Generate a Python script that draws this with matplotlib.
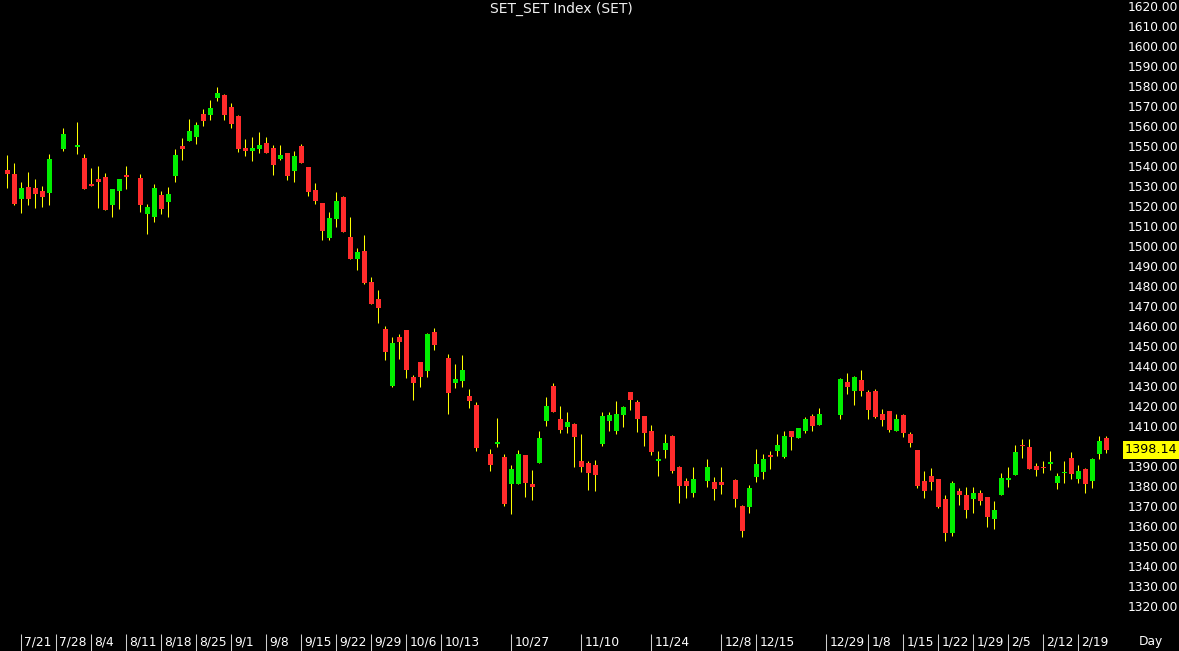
import numpy as np
import matplotlib
matplotlib.use("Agg")
import matplotlib.pyplot as plt
import matplotlib.transforms as mtransforms

nan = np.nan
# ---- data (one slot per weekday; nan = no trading) ----
opens = [1537.8, 1536.0, 1523.7, 1529.3, 1529.0, 1527.3, 1526.7, nan, 1548.5, nan,
         1549.7, 1543.8, 1531.0, 1533.3, 1534.5, 1520.5, 1527.5, 1535.5, nan, 1534.2,
         1516.2, 1514.7, 1525.7, 1522.2, 1535.0, 1550.2, 1552.5, 1554.3, 1566.2, 1565.7,
         1574.2, 1575.5, 1569.3, 1565.0, 1549.0, 1547.5, 1548.5, 1551.3, 1549.0, 1543.7,
         1546.5, 1537.7, 1550.0, 1539.3, 1527.8, 1521.7, 1504.2, 1513.7, 1524.5, 1504.7,
         1493.7, 1497.7, 1482.0, 1473.5, 1458.5, 1430.2, 1454.5, 1458.0, 1434.5, 1442.0,
         1437.7, 1457.0, nan, 1444.0, 1431.5, 1432.5, 1425.0, 1420.3, nan, 1396.0,
         1400.8, 1394.7, 1381.2, 1381.2, 1395.7, 1381.0, 1391.5, 1412.5, 1430.0, 1413.5,
         1409.7, 1411.0, 1392.7, 1391.5, 1390.3, 1401.2, 1412.7, 1407.5, 1415.3, 1427.0,
         1422.0, 1415.0, 1407.5, 1392.7, 1398.2, 1405.0, 1389.3, 1382.3, 1376.3, nan,
         1382.7, 1382.2, 1382.0, nan, 1383.0, 1370.0, 1369.7, 1384.5, 1387.0, 1395.3,
         1397.7, 1394.5, 1407.5, 1404.2, 1407.7, 1415.2, 1410.5, nan, nan, 1415.5,
         1432.0, 1427.7, 1433.0, 1427.0, 1427.3, 1416.0, 1417.5, 1407.7, 1415.7, 1406.2,
         1397.8, 1382.5, 1385.0, 1383.5, 1373.5, 1356.7, 1377.5, 1375.7, 1373.5, 1376.3,
         1374.7, 1363.3, 1375.5, 1383.2, 1385.7, 1400.5, 1399.3, 1389.8, 1389.5, 1391.2,
         1381.7, 1386.5, 1394.0, 1383.5, 1388.5, 1382.5, 1396.2, 1404.2]
highs = [1545.5, 1541.3, 1532.2, 1536.8, 1533.5, 1529.8, 1546.0, nan, 1558.8, nan,
         1562.0, 1546.0, 1539.0, 1540.0, 1536.5, 1528.5, 1533.5, 1540.0, nan, 1535.8,
         1521.2, 1531.0, 1527.5, 1529.3, 1548.3, 1554.0, 1563.3, 1562.0, 1568.7, 1573.0,
         1579.3, 1576.0, 1571.7, 1565.5, 1553.7, 1554.5, 1556.8, 1554.3, 1550.3, 1550.3,
         1546.5, 1547.5, 1551.0, 1539.3, 1531.5, 1521.7, 1517.0, 1527.0, 1525.0, 1514.7,
         1498.8, 1505.5, 1484.5, 1477.8, 1459.8, 1454.7, 1456.0, 1458.0, 1435.5, 1442.2,
         1456.5, 1459.0, nan, 1446.0, 1440.8, 1445.3, 1428.5, 1422.2, nan, 1398.3,
         1413.8, 1395.8, 1390.5, 1397.8, 1395.7, 1387.8, 1407.5, 1424.5, 1431.3, 1419.8,
         1416.8, 1411.7, 1405.8, 1392.3, 1393.0, 1416.8, 1417.0, 1422.5, 1420.0, 1427.0,
         1423.0, 1415.0, 1410.5, 1397.7, 1405.8, 1405.3, 1389.8, 1384.0, 1389.3, nan,
         1393.3, 1384.5, 1389.3, nan, 1383.3, 1370.3, 1380.5, 1398.5, 1395.8, 1397.5,
         1406.2, 1407.7, 1407.5, 1409.2, 1414.7, 1415.8, 1418.8, nan, nan, 1434.2,
         1436.3, 1435.2, 1438.0, 1428.0, 1428.3, 1418.3, 1417.5, 1416.2, 1416.0, 1407.0,
         1398.2, 1387.3, 1389.0, 1383.5, 1375.5, 1382.7, 1379.0, 1379.7, 1379.5, 1378.2,
         1374.7, 1372.5, 1386.3, 1389.3, 1400.5, 1403.3, 1403.5, 1391.7, 1392.3, 1397.7,
         1386.7, 1392.3, 1396.8, 1390.3, 1389.0, 1394.0, 1405.2, 1405.0]
lows = [1529.2, 1520.5, 1516.7, 1520.5, 1519.2, 1519.3, 1520.7, nan, 1547.5, nan,
        1546.0, 1528.3, 1530.2, 1519.2, 1518.0, 1514.3, 1518.5, 1528.7, nan, 1517.2,
        1505.8, 1512.0, 1516.0, 1514.7, 1532.2, 1543.2, 1552.5, 1551.2, 1560.2, 1563.0,
        1572.7, 1563.0, 1559.2, 1546.8, 1545.0, 1542.7, 1546.3, 1546.7, 1535.7, 1543.2,
        1533.0, 1532.2, 1541.3, 1525.2, 1521.2, 1503.2, 1503.2, 1509.7, 1506.8, 1493.7,
        1488.0, 1481.2, 1471.2, 1461.5, 1443.2, 1429.7, 1443.3, 1433.8, 1423.0, 1429.7,
        1434.3, 1448.2, nan, 1416.2, 1429.0, 1429.7, 1419.2, 1397.7, nan, 1387.5,
        1399.3, 1370.2, 1366.2, 1381.2, 1374.5, 1373.2, 1391.5, 1409.8, 1416.8, 1406.7,
        1406.7, 1389.3, 1387.2, 1378.0, 1377.7, 1400.2, 1407.7, 1406.2, 1409.5, 1418.2,
        1407.2, 1400.2, 1395.7, 1385.2, 1393.8, 1386.7, 1371.7, 1374.0, 1374.5, nan,
        1379.3, 1373.2, 1376.0, nan, 1369.7, 1354.5, 1366.5, 1382.0, 1383.7, 1388.7,
        1395.0, 1394.2, 1397.8, 1404.2, 1406.3, 1407.5, 1410.5, nan, nan, 1413.5,
        1426.0, 1420.7, 1425.2, 1413.7, 1414.2, 1410.2, 1407.2, 1407.7, 1404.7, 1399.7,
        1378.8, 1374.2, 1378.2, 1369.2, 1352.5, 1355.0, 1370.7, 1364.2, 1366.7, 1370.7,
        1359.3, 1358.3, 1375.3, 1379.7, 1385.7, 1393.8, 1388.3, 1385.0, 1386.3, 1388.0,
        1378.7, 1381.3, 1383.3, 1381.3, 1376.7, 1378.8, 1393.5, 1396.7]
closes = [1536.2, 1520.8, 1529.2, 1523.5, 1526.2, 1524.3, 1543.3, nan, 1556.2, nan,
          1550.5, 1528.7, 1530.2, 1532.2, 1518.2, 1528.5, 1533.5, 1534.5, nan, 1520.3,
          1519.7, 1529.0, 1518.7, 1526.0, 1545.7, 1548.5, 1557.5, 1560.3, 1562.5, 1568.8,
          1576.5, 1565.7, 1561.2, 1548.5, 1547.7, 1548.8, 1550.5, 1546.7, 1540.7, 1545.3,
          1535.2, 1545.0, 1541.7, 1527.2, 1522.7, 1507.7, 1514.2, 1522.7, 1506.8, 1493.7,
          1497.2, 1481.7, 1471.2, 1469.2, 1447.2, 1451.3, 1452.2, 1438.2, 1431.3, 1434.3,
          1456.0, 1450.3, nan, 1426.7, 1433.5, 1438.0, 1422.7, 1399.2, nan, 1390.7,
          1401.8, 1371.0, 1388.3, 1396.0, 1381.5, 1379.7, 1404.0, 1419.8, 1416.8, 1408.0,
          1411.8, 1404.7, 1389.3, 1386.7, 1385.7, 1415.2, 1415.3, 1415.8, 1419.5, 1423.2,
          1413.7, 1406.3, 1397.2, 1393.5, 1401.5, 1387.3, 1379.8, 1380.0, 1383.5, nan,
          1389.7, 1378.3, 1380.5, nan, 1373.5, 1357.5, 1379.0, 1391.0, 1393.5, 1394.5,
          1400.5, 1405.0, 1404.7, 1408.8, 1413.5, 1410.2, 1416.0, nan, nan, 1433.5,
          1429.3, 1434.7, 1427.7, 1418.2, 1414.5, 1413.2, 1407.8, 1413.5, 1406.5, 1401.5,
          1380.2, 1377.7, 1382.2, 1369.5, 1356.3, 1381.3, 1375.7, 1367.8, 1376.3, 1372.7,
          1364.3, 1368.0, 1384.0, 1384.0, 1396.8, 1399.8, 1388.3, 1388.2, 1389.0, 1392.0,
          1385.2, 1387.2, 1386.0, 1387.3, 1380.8, 1393.5, 1402.5, 1398.14]

date_labels = ["7/21", "7/28", "8/4", "8/11", "8/18", "8/25", "9/1", "9/8", "9/15",
               "9/22", "9/29", "10/6", "10/13", "10/27", "11/10", "11/24", "12/8",
               "12/15", "12/29", "1/8", "1/15", "1/22", "1/29", "2/5", "2/12", "2/19"]
date_slots = [2, 7, 12, 17, 22, 27, 32, 37, 42, 47, 52, 57, 62, 72, 82, 92, 102,
              107, 117, 123, 128, 133, 138, 143, 148, 153]
y_ticks = list(range(1320, 1621, 10))
title = "SET_SET Index (SET)"
last_price = 1398.14

# ---- figure ----
W, H = 1179, 651
fig = plt.figure(figsize=(W / 100, H / 100), dpi=100, facecolor="black")
plot_right, plot_bottom = 1122, 634
ax = fig.add_axes([0, (H - plot_bottom) / H, plot_right / W, plot_bottom / H])
ax.set_facecolor("black")

o = np.array(opens, float); h = np.array(highs, float)
l = np.array(lows, float); c = np.array(closes, float)
x = np.arange(len(o))
ok = ~np.isnan(o)
up = ok & (c >= o)
dn = ok & (c < o)

ax.vlines(x[ok], l[ok], h[ok], color="#ffff00", lw=0.75, zorder=2)
minh = 0.55
for mask, col in ((up, "#00ee00"), (dn, "#ff2b2b")):
    bottom = np.minimum(o[mask], c[mask])
    height = np.maximum(np.abs(c[mask] - o[mask]), minh)
    ax.bar(x[mask], height, bottom=bottom, width=0.72, color=col,
           edgecolor="none", zorder=3)

ax.set_xlim(-7.3 / 7, (plot_right - 7.3) / 7)
ax.set_ylim(1620 - (plot_bottom - 6) / 2, 1620 + 6 / 2)

for s in ax.spines.values():
    s.set_visible(False)

ax.yaxis.tick_right()
ax.set_yticks(y_ticks)
ax.yaxis.set_major_formatter("{x:.2f}")
ax.tick_params(axis="y", length=0, pad=4, labelcolor="white", labelsize=8.8)

ax.set_xticks(date_slots)
ax.set_xticklabels(date_labels, ha="left")
ax.tick_params(axis="x", direction="out", length=13.5, width=0.75,
               color="#cfcfcf", pad=-12.5, labelcolor="white", labelsize=8.8)
off = mtransforms.ScaledTranslation(3 / 100, 0, fig.dpi_scale_trans)
for lab in ax.get_xticklabels():
    lab.set_transform(lab.get_transform() + off)

fig.text(1151 / W, 1 - 641 / H, "Day", color="white", fontsize=8.8,
         ha="center", va="center")

ax.text(0.5, 1 - 9 / plot_bottom, title, transform=ax.transAxes, ha="center",
        va="center", color="#f0f0f0", fontsize=10)

tr = mtransforms.blended_transform_factory(ax.transAxes, ax.transData)
tag = ax.text(1.0, last_price, f"{last_price:.2f}", transform=tr +
              mtransforms.ScaledTranslation(3 / 100, 0, fig.dpi_scale_trans),
              ha="left", va="center", color="black", fontsize=9.2, clip_on=False,
              zorder=10, bbox=dict(facecolor="#ffff00", edgecolor="none",
                                   boxstyle="square,pad=0.18"))

fig.savefig("out.png", dpi=100, facecolor="black")
